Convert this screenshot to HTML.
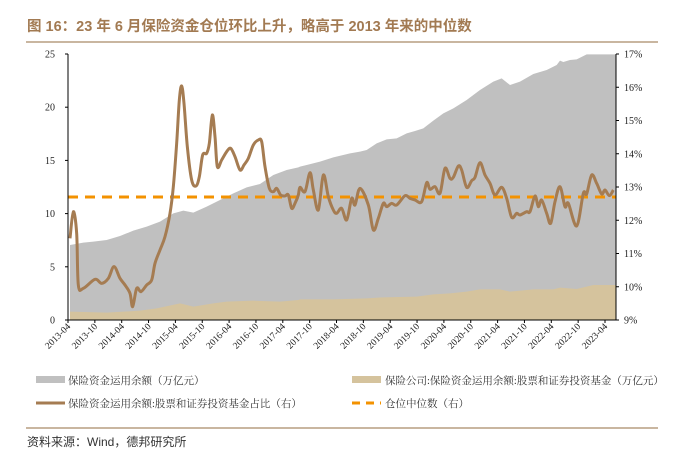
<!DOCTYPE html>
<html><head><meta charset="utf-8"><style>
body{margin:0;background:#fff;width:678px;height:448px;overflow:hidden;font-family:"Liberation Serif","Noto Serif CJK SC",serif}
</style></head><body>
<svg id="s" width="678" height="448" xmlns="http://www.w3.org/2000/svg">
<text x="27" y="31" font-family="Liberation Sans,Noto Sans CJK SC,sans-serif" font-weight="bold" font-size="14.5" fill="#a27a52">图 16：23 年 6 月保险资金仓位环比上升，略高于 2013 年来的中位数</text>
<line x1="26" y1="42" x2="658" y2="42" stroke="#a98a68" stroke-width="1.2"/>
<path id="gray" fill="#c0c0c0"/>
<path id="tan" fill="#d5c39d"/>
<line x1="68" y1="197" x2="616" y2="197" stroke="#f39200" stroke-width="3" stroke-dasharray="10,7"/>
<path id="ln" fill="none" stroke="#a57c52" stroke-width="3" stroke-linejoin="round"/>
<g id="ax" stroke="#000" stroke-width="1"></g>
<g id="lab" font-size="10" fill="#222"></g>
<rect x="36" y="376" width="29" height="7" fill="#c0c0c0"/>
<text x="68" y="384" font-size="10.5" fill="#333">保险资金运用余额（万亿元）</text>
<rect x="352" y="376" width="29" height="7" fill="#d5c39d"/>
<text x="385" y="384" font-size="10.5" fill="#333">保险公司:保险资金运用余额:股票和证券投资基金（万亿元）</text>
<line x1="36" y1="403" x2="65" y2="403" stroke="#a57c52" stroke-width="3"/>
<text x="68" y="407" font-size="10.5" fill="#333">保险资金运用余额:股票和证券投资基金占比（右）</text>
<line x1="352" y1="403" x2="381" y2="403" stroke="#f39200" stroke-width="3" stroke-dasharray="8,6"/>
<text x="385" y="407" font-size="10.5" fill="#333">仓位中位数（右）</text>
<line x1="26" y1="428" x2="658" y2="428" stroke="#a98a68" stroke-width="1.2"/>
<text x="27" y="446" font-size="12" fill="#333" font-family="Liberation Sans,Noto Sans CJK SC,sans-serif">资料来源：Wind，德邦研究所</text>
</svg>
<script>
function Z(a,ox,oy){return a.map(p=>[ox+p[0]/3,oy+p[1]/3]);}
var gL=Z([[90,555],[130,548],[160,545],[200,540],[240,528],[280,512],[320,500],[360,485],[400,460],[430,452],[460,458],[500,440],[540,420],[580,400],[620,382],[660,372],[700,345],[740,330],[775,322]],40,60);
var gR=Z([[0,350],[20,345],[60,335],[100,322],[150,310],[180,305],[200,300],[230,280],[260,268],[290,265],[320,250],[345,243],[370,235],[400,212],[430,190],[460,175],[500,150],[540,120],[580,95],[605,85],[630,105],[660,95],[700,72],[740,60],[770,45],[780,32],[790,36],[810,30],[830,28],[860,13],[948,13]],300,50);
var tL=Z([[90,755],[200,758],[300,752],[350,745],[420,730],[460,740],[520,730],[560,725],[640,722],[720,725],[775,720]],40,60);
var tR=Z([[0,748],[100,748],[200,745],[250,742],[350,740],[400,733],[450,730],[500,725],[540,718],[600,718],[630,725],[700,718],[760,718],[780,713],[830,717],[880,705],[948,705]],300,50);
function area(pts){return "M"+pts[0][0]+",320 L"+pts.map(p=>p[0]+","+p[1]).join(" L")+" L"+pts[pts.length-1][0]+",320Z";}
document.getElementById('gray').setAttribute('d',area(gL.concat(gR)));
document.getElementById('tan').setAttribute('d',area(tL.concat(tR)));
var lL=Z([[90,535],[100,455],[110,520],[115,675],[130,685],[165,658],[185,670],[205,655],[222,620],[240,655],[255,675],[270,700],[278,740],[290,685],[303,695],[320,675],[335,660],[345,610],[360,570],[375,530],[390,460],[400,380],[410,250],[418,120],[425,78],[432,130],[442,260],[455,360],[468,378],[478,350],[488,285],[500,280],[508,250],[517,165],[525,230],[532,320],[545,300],[560,275],[572,265],[585,290],[600,330],[612,315],[625,295],[640,255],[655,240],[665,245],[675,320],[688,385],[700,395],[710,385],[722,405],[735,408],[745,405],[755,445],[765,430],[775,405]],40,60);
var lR=Z([[0,412],[15,425],[30,368],[40,420],[55,480],[70,375],[85,440],[100,480],[110,490],[125,475],[140,510],[155,445],[165,465],[180,415],[205,465],[220,540],[235,505],[250,460],[260,470],[275,460],[290,465],[315,437],[330,445],[345,450],[365,455],[380,398],[390,418],[405,410],[420,430],[435,355],[450,385],[460,382],[475,348],[485,360],[500,412],[515,392],[525,382],[540,338],[555,375],[570,400],[585,435],[605,412],[620,445],[635,502],[650,490],[660,495],[680,485],[690,485],[705,438],[715,470],[725,450],[740,490],[752,520],[765,455],[780,410],[795,470],[805,460],[830,528],[850,430],[860,432],[875,375],[890,400],[905,432],[915,420],[928,437],[940,420]],300,50);
var P=lL.concat(lR),d="M"+P[0].join(",");
for(var i=0;i<P.length-1;i++){var p0=P[Math.max(0,i-1)],p1=P[i],p2=P[i+1],p3=P[Math.min(P.length-1,i+2)];
var c1=[p1[0]+(p2[0]-p0[0])/6,p1[1]+(p2[1]-p0[1])/6],c2=[p2[0]-(p3[0]-p1[0])/6,p2[1]-(p3[1]-p1[1])/6];
d+=" C"+c1.join(",")+" "+c2.join(",")+" "+p2.join(",");}
document.getElementById('ln').setAttribute('d',d);
var ax=document.getElementById('ax'),lab=document.getElementById('lab'),h='',t='';
h+='<line x1="68" y1="54" x2="68" y2="320"/><line x1="68" y1="320" x2="616" y2="320"/><line x1="616" y1="54" x2="616" y2="320"/>';
for(var i=0;i<=5;i++){var y=320-i*53.2;h+='<line x1="65" y1="'+y+'" x2="68" y2="'+y+'"/>';t+='<text x="55" y="'+(y+3.5)+'" text-anchor="end">'+(i*5)+'</text>';}
for(var i=0;i<=8;i++){var y=320-i*33.25;h+='<line x1="616" y1="'+y+'" x2="619" y2="'+y+'"/>';t+='<text x="624" y="'+(y+3.5)+'">'+(9+i)+'%</text>';}
var labs=[];for(var yr=2013;yr<=2023;yr++){labs.push(yr+"-04");if(yr<2023)labs.push(yr+"-10");}
labs.forEach(function(s,k){var x=68+k*26.85;h+='<line x1="'+x+'" y1="320" x2="'+x+'" y2="323"/>';t+='<text transform="translate('+(x+3)+',327) rotate(-45)" text-anchor="end" font-size="9.5">'+s+'</text>';});
ax.innerHTML=h;lab.innerHTML=t;
</script>
</body></html>
